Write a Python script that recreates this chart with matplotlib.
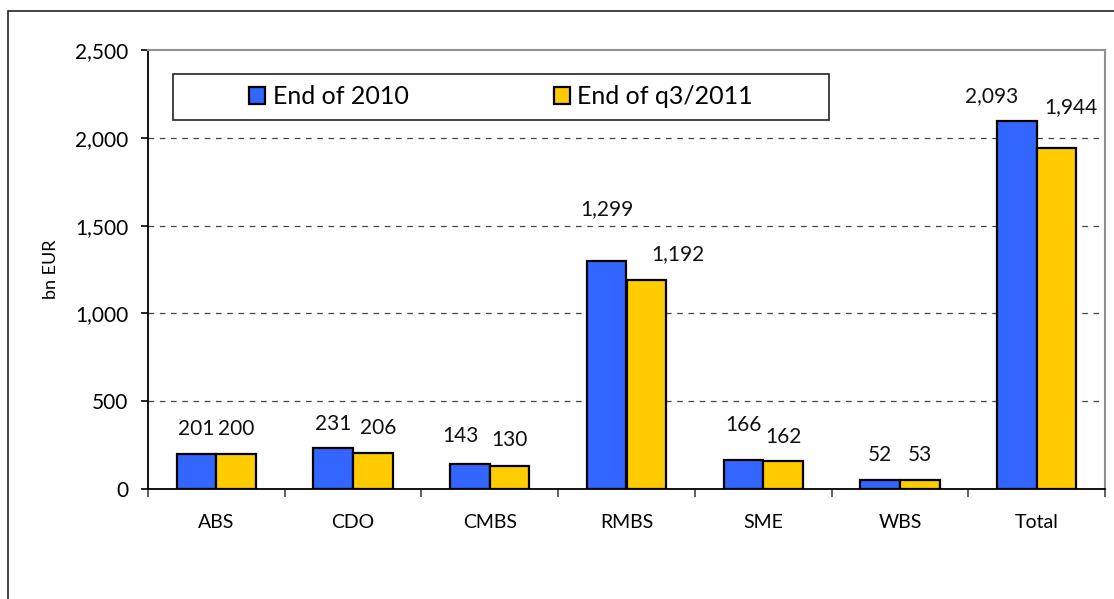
import matplotlib.pyplot as plt
import numpy as np
from matplotlib.patches import Rectangle

categories = ["ABS", "CDO", "CMBS", "RMBS", "SME", "WBS", "Total"]
end_2010 = [201, 231, 143, 1299, 166, 52, 2093]
end_q3_2011 = [200, 206, 130, 1192, 162, 53, 1944]
series_names = ["End of 2010", "End of q3/2011"]

# label nudges in pixels (dx, dy) as placed in the original
offs_2010 = [(0, 25), (0, 24), (-10, 28), (0, 52), (0, 35), (0, 25), (-25, 25)]
offs_2011 = [(0, 25), (5, 25), (0, 26), (32, 26), (0, 24), (0, 25), (14, 41)]

blue = "#3366FF"
yellow = "#FFCC00"

plt.rcParams['font.family'] = ['Lato', 'DejaVu Sans']

fig = plt.figure(figsize=(11.14, 5.99), dpi=100)
W, H = 1114, 599
ax = fig.add_axes([148 / W, 1 - 489 / H, (1105 - 148) / W, (489 - 50) / H])

# outer frame of the chart
fig.patches.append(Rectangle((8 / W, -0.1), 1.2, 1 - 11 / H + 0.1, transform=fig.transFigure,
                             fill=False, edgecolor="#222222", linewidth=1.2))

x = np.arange(len(categories))
bw = 0.29
b1 = ax.bar(x - bw / 2, end_2010, bw, color=blue, edgecolor="black", linewidth=1.6,
            label=series_names[0], zorder=3)
b2 = ax.bar(x + bw / 2, end_q3_2011, bw, color=yellow, edgecolor="black", linewidth=1.6,
            label=series_names[1], zorder=3)

for bars, vals, offs in [(b1, end_2010, offs_2010), (b2, end_q3_2011, offs_2011)]:
    for rect, v, (dx, dy) in zip(bars, vals, offs):
        ax.annotate(f"{v:,}", (rect.get_x() + rect.get_width() / 2, v),
                    xytext=(dx, dy), textcoords="offset pixels",
                    ha="center", va="center", fontsize=15, color="#111111")

ax.set_xlim(-0.5, len(categories) - 0.5)
ax.set_ylim(0, 2500)
ax.set_yticks(np.arange(0, 2501, 500))
ax.set_yticklabels([f"{v:,}" for v in range(0, 2501, 500)], fontsize=15)
ax.tick_params(axis="y", direction="out", length=5, width=1.2, pad=9, color="black")

ax.set_xticks(np.arange(-0.5, len(categories), 1))
ax.set_xticklabels([])
ax.set_xticks(x, minor=True)
ax.set_xticklabels(categories, minor=True, fontsize=14)
ax.tick_params(axis="x", which="major", direction="out", length=6, width=1.2, color="#444444")
ax.tick_params(axis="x", which="minor", length=0, pad=18)

for y in [500, 1000, 1500, 2000]:
    ax.axhline(y, color="#444444", linestyle=(0, (4.5, 4.5)), linewidth=0.9, zorder=1)

ax.spines["left"].set_color("black")
ax.spines["bottom"].set_color("black")
ax.spines["left"].set_linewidth(1.3)
ax.spines["bottom"].set_linewidth(1.3)
ax.spines["top"].set_color("#909090")
ax.spines["right"].set_color("#909090")
ax.spines["top"].set_linewidth(1.5)
ax.spines["right"].set_linewidth(1.5)

ax.set_ylabel("bn EUR", fontsize=13, labelpad=12)

# legend box
lx0, lx1, ly0, ly1 = 173, 829, 74, 120
ax.add_patch(Rectangle(((lx0 - 148) / 957, (489 - ly1) / 439), (lx1 - lx0) / 957, (ly1 - ly0) / 439,
                       transform=ax.transAxes, fill=True, facecolor="white",
                       edgecolor="#222222", linewidth=1.2, zorder=4))
leg = ax.legend(loc="center", bbox_to_anchor=(((lx0 + lx1) / 2 - 148) / 957, (489 - (ly0 + ly1) / 2) / 439),
                ncol=2, frameon=False, fontsize=18, handlelength=0.65, handleheight=0.65,
                handletextpad=0.3, columnspacing=5.8)
leg.set_zorder(5)

fig.savefig("out.png", dpi=100)
